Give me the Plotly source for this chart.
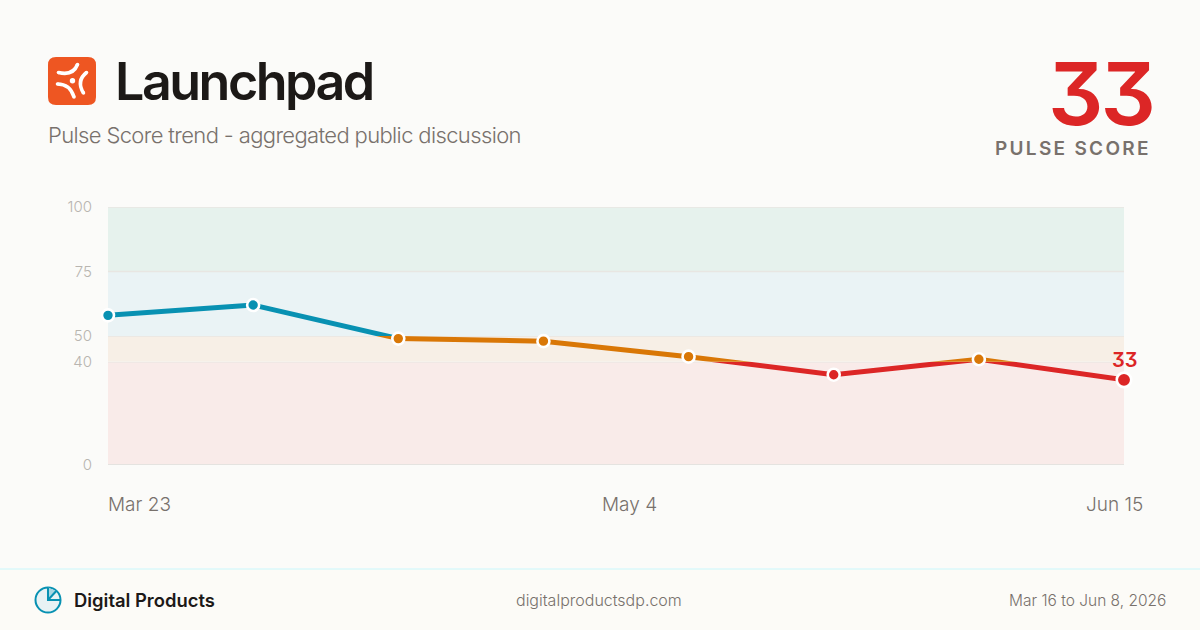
import plotly.graph_objects as go

# chart values
point_index = [0, 1, 2, 3, 4, 5, 6, 7]
pulse_scores = [58, 62, 49, 48, 42, 35, 41, 33]
date_labels = ["Mar 23", "May 4", "Jun 15"]
band_low = [0, 40, 50, 75]
band_high = [40, 50, 75, 100]
band_axis = ["y", "y2", "y3", "y3"]
band_fill = ["#f9ebe9", "#f7efe6", "#eaf3f5", "#e6f2ed"]

BLUE = "#0891b2"
ORANGE = "#d97706"
RED = "#dc2626"
BG = "#fbfbf9"
INK = "#1c1917"
MUTED = "#78716c"
FONT = "Inter"

# plot box in page pixels
L, R, T, B = 108, 1124, 207, 465


def px(x):
    return (x - L) / (R - L)


def py(y):
    return (B - y) / (B - T)


def pt(x, y):
    return f"{px(x):.5f},{py(y):.5f}"


def band_color(v):
    if v >= 50:
        return BLUE
    if v >= 40:
        return ORANGE
    return RED


def page_shape(path, fill=None, line=None, width=0):
    return dict(type="path", path=path, xref="paper", yref="paper", layer="above",
                fillcolor=fill or "rgba(0,0,0,0)",
                line=dict(color=line or "rgba(0,0,0,0)", width=width))


def page_circle(cx, cy, r, fill=None, line=None, width=0):
    return dict(type="circle", xref="paper", yref="paper", layer="above",
                x0=px(cx - r), x1=px(cx + r), y0=py(cy + r), y1=py(cy - r),
                fillcolor=fill or "rgba(0,0,0,0)",
                line=dict(color=line or "rgba(0,0,0,0)", width=width))


fig = go.Figure()

# same line in each band axis, the axis clip gives the colour change at 40 and 50
for axis, color in [("y", RED), ("y2", ORANGE), ("y3", BLUE)]:
    fig.add_trace(go.Scatter(x=point_index, y=pulse_scores, yaxis=axis, mode="lines",
                             line=dict(color=color, width=5), hoverinfo="skip"))

fig.add_trace(go.Scatter(
    x=point_index, y=pulse_scores, yaxis="y4", mode="markers", cliponaxis=False,
    marker=dict(color=[band_color(v) for v in pulse_scores], opacity=1,
                size=[12] * (len(pulse_scores) - 1) + [14.5],
                line=dict(color="white", width=2.6))))

shapes = []

# background blocks
shapes.append(dict(type="rect", xref="paper", yref="paper", layer="below",
                   x0=px(0), x1=px(1200), y0=py(630), y1=py(569), fillcolor="#fcfbf7", line_width=0))
shapes.append(dict(type="line", xref="paper", yref="paper", layer="below",
                   x0=px(0), x1=px(1200), y0=py(569), y1=py(569), line=dict(color="#c8f7fc", width=1)))

for low, high, axis, fill in zip(band_low, band_high, band_axis, band_fill):
    shapes.append(dict(type="rect", xref="x", yref=axis, layer="below", x0=0, x1=7,
                       y0=low, y1=high, fillcolor=fill, line_width=0))
for high, axis in zip(band_high, band_axis):
    shapes.append(dict(type="line", xref="x", yref=axis, layer="below", x0=0, x1=7,
                       y0=high, y1=high, line=dict(color="#e8e6e2", width=1.5)))
shapes.append(dict(type="line", xref="x", yref="y", layer="below", x0=0, x1=7,
                   y0=0, y1=0, line=dict(color="#e5e3e0", width=2)))

# logo
shapes.append(page_shape(
    f"M{pt(56, 57)} L{pt(88, 57)} Q{pt(96, 57)} {pt(96, 65)} L{pt(96, 97)} Q{pt(96, 105)} {pt(88, 105)} "
    f"L{pt(56, 105)} Q{pt(48, 105)} {pt(48, 97)} L{pt(48, 65)} Q{pt(48, 57)} {pt(56, 57)} Z",
    fill="#ee5622"))
arcs = [((58.5, 72.5), (73, 76), (77.5, 64.5)),
        ((57.5, 84), (70, 84), (74, 97)),
        ((86.5, 72.5), (76, 81), (83.5, 93))]
for a, c, b in arcs:
    shapes.append(page_shape(f"M{pt(*a)} Q{pt(*c)} {pt(*b)}", line="white", width=3.6))
    shapes.append(page_circle(a[0], a[1], 1.8, fill="white"))
    shapes.append(page_circle(b[0], b[1], 1.8, fill="white"))
shapes.append(page_circle(72.5, 80.7, 2.7, fill="white"))

# footer icon
shapes.append(page_circle(48, 600, 12.5, fill="#e8f2f4", line=BLUE, width=2))
shapes.append(page_shape(f"M{pt(48, 600)} L{pt(48, 587.5)} L{pt(56.5, 591)} Z", fill="#a8d6e2"))
shapes.append(page_shape(f"M{pt(48, 587.5)} L{pt(48, 600)} L{pt(60.5, 600)}", line=BLUE, width=2))
shapes.append(page_shape(f"M{pt(48, 600)} L{pt(56.5, 590.8)}", line=BLUE, width=2))


def page_text(text, x, y, size, color, anchor="left", weight=400):
    return dict(text=text, x=px(x), y=py(y), xref="paper", yref="paper", showarrow=False,
                xanchor=anchor, yanchor="middle", align=anchor, borderpad=0,
                font=dict(family=FONT, size=size, color=color, weight=weight))


annotations = [
    page_text("Launchpad", 113.5, 81.5, 52, INK, weight=600),
    page_text("Pulse Score trend - aggregated public discussion", 47, 135, 22, MUTED, weight=300),
    page_text(str(pulse_scores[-1]), 1047, 93.5, 87, RED, weight=600),
    page_text("PULSE SCORE", 994, 148.5, 19, MUTED, weight=600),
    page_text(date_labels[0], 107, 504, 19, MUTED, weight=300),
    page_text(date_labels[1], 629, 504, 19, MUTED, anchor="center", weight=300),
    page_text(date_labels[2], 1144, 504, 19, MUTED, anchor="right", weight=300),
    page_text("Digital Products", 73, 600, 18.4, INK, weight=600),
    page_text("digitalproductsdp.com", 599, 600, 16, MUTED, anchor="center", weight=300),
    page_text("Mar 16 to Jun 8, 2026", 1167, 600, 15.5, MUTED, anchor="right", weight=300),
    dict(text=str(pulse_scores[-1]), x=point_index[-1], y=pulse_scores[-1], xref="x", yref="y4",
         showarrow=False, yanchor="bottom", yshift=7, borderpad=0,
         font=dict(family=FONT, size=20, color=RED, weight=600)),
]

tick_font = dict(family=FONT, size=15, color="#b8b5b0", weight=300)
y_axis = dict(showgrid=False, zeroline=False, showline=False, ticks="", ticklen=0,
              ticklabelstandoff=15, tickfont=tick_font, anchor="x", fixedrange=True)

fig.update_layout(
    width=1200, height=630,
    margin=dict(l=L, r=1200 - R, t=T, b=630 - B, pad=0),
    paper_bgcolor=BG, plot_bgcolor="rgba(0,0,0,0)",
    showlegend=False,
    xaxis=dict(range=[0, 7], visible=False, anchor="y", fixedrange=True),
    yaxis=dict(y_axis, domain=[0, 0.4], range=[0, 40], tickvals=[0]),
    yaxis2=dict(y_axis, domain=[0.4, 0.5], range=[40, 50], tickvals=[40]),
    yaxis3=dict(y_axis, domain=[0.5, 1], range=[50, 100], tickvals=[50, 75, 100]),
    yaxis4=dict(domain=[0, 1], range=[0, 100], visible=False, anchor="x", fixedrange=True),
    shapes=shapes,
    annotations=annotations,
)

# letter spacing and the flat-top 3 have no plotly attribute
css = """
.annotation[data-index="0"] text {letter-spacing:-2.5px}
.annotation[data-index="1"] text {letter-spacing:-0.63px}
.annotation[data-index="2"] text {letter-spacing:-3px;font-feature-settings:"cv09"}
.annotation[data-index="3"] text {letter-spacing:2.3px}
.annotation[data-index="10"] text {font-feature-settings:"cv09"}
"""
post = ("document.body.style.margin='0';"
        "var s=document.createElement('style');s.textContent=" + repr(css.replace("\n", " ")) + ";"
        "document.head.appendChild(s);")

fig.write_html("out.html", config=dict(displayModeBar=False), post_script=post)
